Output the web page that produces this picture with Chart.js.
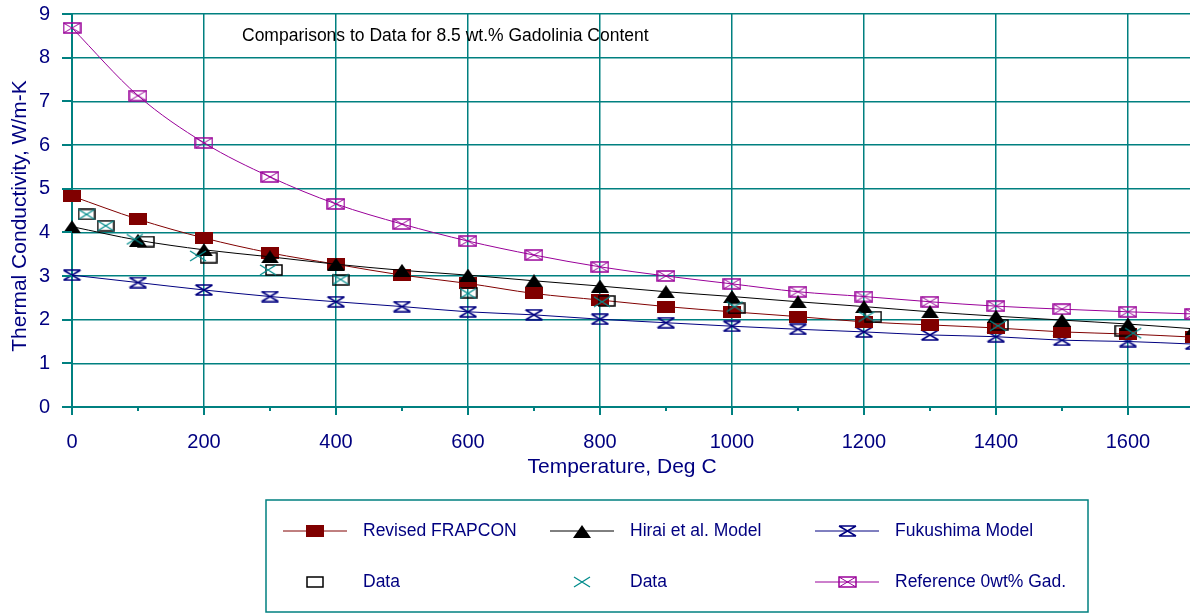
<!DOCTYPE html>
<html>
<head>
<meta charset="utf-8">
<script src="https://cdn.jsdelivr.net/npm/chart.js@4.4.1/dist/chart.umd.min.js"></script>
<style>
  html, body { margin: 0; padding: 0; background: #ffffff; }
  #wrap { width: 1190px; height: 615px; position: relative; }
</style>
</head>
<body>
<div id="wrap"><canvas id="c" width="1190" height="615"></canvas></div>
<script>
// Temperatures (Deg C) at which the model curves are evaluated
const temps = [0, 100, 200, 300, 400, 500, 600, 700, 800, 900, 1000, 1100, 1200, 1300, 1400, 1500, 1600, 1700];

// Model curves, thermal conductivity in W/m-K
const frapcon   = [4.83, 4.30, 3.87, 3.53, 3.27, 3.02, 2.83, 2.60, 2.45, 2.30, 2.18, 2.07, 1.95, 1.88, 1.81, 1.72, 1.67, 1.60];
const hirai     = [4.13, 3.82, 3.60, 3.44, 3.27, 3.13, 3.02, 2.89, 2.77, 2.64, 2.53, 2.41, 2.30, 2.18, 2.08, 1.99, 1.90, 1.79];
const fukushima = [3.02, 2.85, 2.68, 2.53, 2.41, 2.30, 2.18, 2.11, 2.01, 1.93, 1.85, 1.78, 1.72, 1.65, 1.61, 1.53, 1.50, 1.44];
const ref0gad   = [8.68, 7.13, 6.05, 5.27, 4.65, 4.19, 3.80, 3.48, 3.21, 3.00, 2.82, 2.64, 2.53, 2.41, 2.31, 2.24, 2.18, 2.13];

// Measured data, first set (open squares)
const sqTemps = [22, 51, 112, 207, 306, 407, 601, 810, 1007, 1214, 1406, 1593];
const sqK     = [4.41, 4.15, 3.79, 3.42, 3.14, 2.91, 2.62, 2.43, 2.26, 2.07, 1.88, 1.75];

// Measured data, second set (crosses)
const xTemps = [22, 51, 95, 191, 297, 407, 600, 803, 1004, 1204, 1403, 1608];
const xK     = [4.41, 4.15, 3.84, 3.46, 3.14, 2.92, 2.60, 2.41, 2.30, 2.07, 1.86, 1.69];

// Axis ticks
const yTicks = [0, 1, 2, 3, 4, 5, 6, 7, 8, 9];
const xTicks = [0, 200, 400, 600, 800, 1000, 1200, 1400, 1600];
const xMinorTicks = [100, 300, 500, 700, 900, 1100, 1300, 1500];

const TEAL = '#008080';
const NAVY = '#000080';
const RED = '#800000';
const PURPLE = '#990099';
const FONT = '"Liberation Sans", Arial, sans-serif';

function pts(xs, ys) { return xs.map((x, i) => ({ x: x, y: ys[i] })); }

function glyph(w, h, draw) {
  const c = document.createElement('canvas');
  c.width = w; c.height = h;
  const g = c.getContext('2d');
  draw(g, w, h);
  return c;
}

const mSquareFill = glyph(18, 12, (g, w, h) => { g.fillStyle = RED; g.fillRect(0, 0, w, h); });
const mTriangle = glyph(18, 13, (g, w, h) => {
  g.fillStyle = '#000'; g.beginPath(); g.moveTo(0, h); g.lineTo(w / 2, 0); g.lineTo(w, h); g.closePath(); g.fill();
});
const mHourglass = glyph(19, 12, (g, w, h) => {
  g.strokeStyle = NAVY; g.lineWidth = 1.5; g.beginPath();
  g.moveTo(1, 1); g.lineTo(w - 1, 1);
  g.moveTo(1, h - 1); g.lineTo(w - 1, h - 1);
  g.moveTo(1, 1); g.lineTo(w - 1, h - 1);
  g.moveTo(w - 1, 1); g.lineTo(1, h - 1);
  g.stroke();
});
const mBoxX = glyph(19, 12, (g, w, h) => {
  g.strokeStyle = PURPLE; g.lineWidth = 1.5; g.strokeRect(1, 1, w - 2, h - 2);
  g.lineWidth = 1; g.beginPath();
  g.moveTo(1, 1); g.lineTo(w - 1, h - 1); g.moveTo(w - 1, 1); g.lineTo(1, h - 1); g.stroke();
});
const mOpenSq = glyph(18, 12, (g, w, h) => {
  g.strokeStyle = '#000'; g.lineWidth = 1.5; g.strokeRect(1, 1, w - 2, h - 2);
});
const mCross = glyph(18, 12, (g, w, h) => {
  g.strokeStyle = '#008b8b'; g.lineWidth = 1.3; g.beginPath();
  g.moveTo(1, 1); g.lineTo(w - 1, h - 1); g.moveTo(w - 1, 1); g.lineTo(1, h - 1); g.stroke();
});

function lineSet(label, data, color, marker, order) {
  return {
    label: label, data: data, borderColor: color, borderWidth: 1,
    pointStyle: marker, pointRadius: 6, pointHoverRadius: 6,
    cubicInterpolationMode: 'monotone', showLine: true, order: order, clip: false
  };
}

const datasets = [
  lineSet('Revised FRAPCON', pts(temps, frapcon), RED, mSquareFill, 4),
  lineSet('Hirai et al. Model', pts(temps, hirai), '#000000', mTriangle, 3),
  lineSet('Fukushima Model', pts(temps, fukushima), NAVY, mHourglass, 5),
  { label: 'Data', data: pts(sqTemps, sqK), showLine: false, pointStyle: mOpenSq, pointRadius: 6, order: 2, clip: false },
  { label: 'Data', data: pts(xTemps, xK), showLine: false, pointStyle: mCross, pointRadius: 6, order: 1, clip: false },
  lineSet('Reference 0wt% Gad.', pts(temps, ref0gad), PURPLE, mBoxX, 6)
];

// Axis tick marks, axis titles, note and the boxed legend
const decor = {
  id: 'decor',
  afterDraw(chart) {
    const g = chart.ctx;
    const xs = chart.scales.x, ys = chart.scales.y;
    const ca = chart.chartArea;
    g.save();
    g.strokeStyle = TEAL; g.lineWidth = 2;
    g.beginPath();
    yTicks.forEach(v => { const y = Math.round(ys.getPixelForValue(v)); g.moveTo(ca.left - 10, y); g.lineTo(ca.left, y); });
    xTicks.forEach(v => { const x = Math.round(xs.getPixelForValue(v)); g.moveTo(x, ca.bottom); g.lineTo(x, ca.bottom + 8); });
    xMinorTicks.forEach(v => { const x = Math.round(xs.getPixelForValue(v)); g.moveTo(x, ca.bottom); g.lineTo(x, ca.bottom + 4); });
    g.stroke();

    // axis titles
    g.fillStyle = NAVY;
    g.font = '21px ' + FONT;
    g.textAlign = 'center'; g.textBaseline = 'middle';
    g.fillText('Temperature, Deg C', 622, 467);
    g.save();
    g.translate(20, 216); g.rotate(-Math.PI / 2);
    g.fillText('Thermal Conductivity, W/m-K', 0, 0);
    g.restore();

    // note inside the plot
    g.fillStyle = '#000';
    g.font = '17.5px ' + FONT;
    g.textAlign = 'left';
    g.fillText('Comparisons to Data for 8.5 wt.% Gadolinia Content', 242, 36);

    // legend box
    g.strokeStyle = TEAL; g.lineWidth = 1.5;
    g.strokeRect(266, 500, 822, 112);
    const cols = [363, 630, 895], rows = [531, 582];
    const items = [
      { ds: 0, c: 0, r: 0 }, { ds: 1, c: 1, r: 0 }, { ds: 2, c: 2, r: 0 },
      { ds: 3, c: 0, r: 1 }, { ds: 4, c: 1, r: 1 }, { ds: 5, c: 2, r: 1 }
    ];
    g.font = '17.5px ' + FONT;
    g.textBaseline = 'middle';
    items.forEach(it => {
      const d = chart.data.datasets[it.ds];
      const tx = cols[it.c], ty = rows[it.r];
      const mx = tx - 48;
      if (d.showLine !== false) {
        g.strokeStyle = d.borderColor; g.lineWidth = 1;
        g.beginPath(); g.moveTo(mx - 32, ty); g.lineTo(mx + 32, ty); g.stroke();
      }
      const img = d.pointStyle;
      g.drawImage(img, Math.round(mx - img.width / 2), Math.round(ty - img.height / 2));
      g.fillStyle = NAVY;
      g.fillText(d.label, tx, ty);
    });
    g.restore();
  }
};

function noPad(s) { s.paddingTop = 0; s.paddingBottom = 0; s.paddingLeft = 0; s.paddingRight = 0; }

new Chart(document.getElementById('c'), {
  type: 'scatter',
  data: { datasets: datasets },
  options: {
    responsive: false,
    animation: false,
    layout: { autoPadding: false, padding: { top: 14, right: 0, left: 0, bottom: 0 } },
    plugins: { legend: { display: false }, tooltip: { enabled: false } },
    scales: {
      x: {
        type: 'linear', min: 0, max: 1694,
        afterBuildTicks(s) { s.ticks = xTicks.map(v => ({ value: v })); },
        afterFit(s) { s.height = 208; noPad(s); },
        ticks: {
          autoSkip: false, maxRotation: 0, minRotation: 0,
          color: NAVY, font: { family: FONT, size: 20 }, padding: 23,
          callback: v => String(v)
        },
        grid: { drawTicks: false, lineWidth: 1.5, color: TEAL },
        border: { display: true, color: TEAL, width: 2 }
      },
      y: {
        min: 0, max: 9,
        afterBuildTicks(s) { s.ticks = yTicks.map(v => ({ value: v })); },
        afterFit(s) { s.width = 72; noPad(s); },
        ticks: { color: NAVY, font: { family: FONT, size: 20 }, padding: 22 },
        grid: { drawTicks: false, lineWidth: 1.5, color: TEAL },
        border: { display: true, color: TEAL, width: 2 }
      }
    }
  },
  plugins: [decor]
});
</script>
</body>
</html>
